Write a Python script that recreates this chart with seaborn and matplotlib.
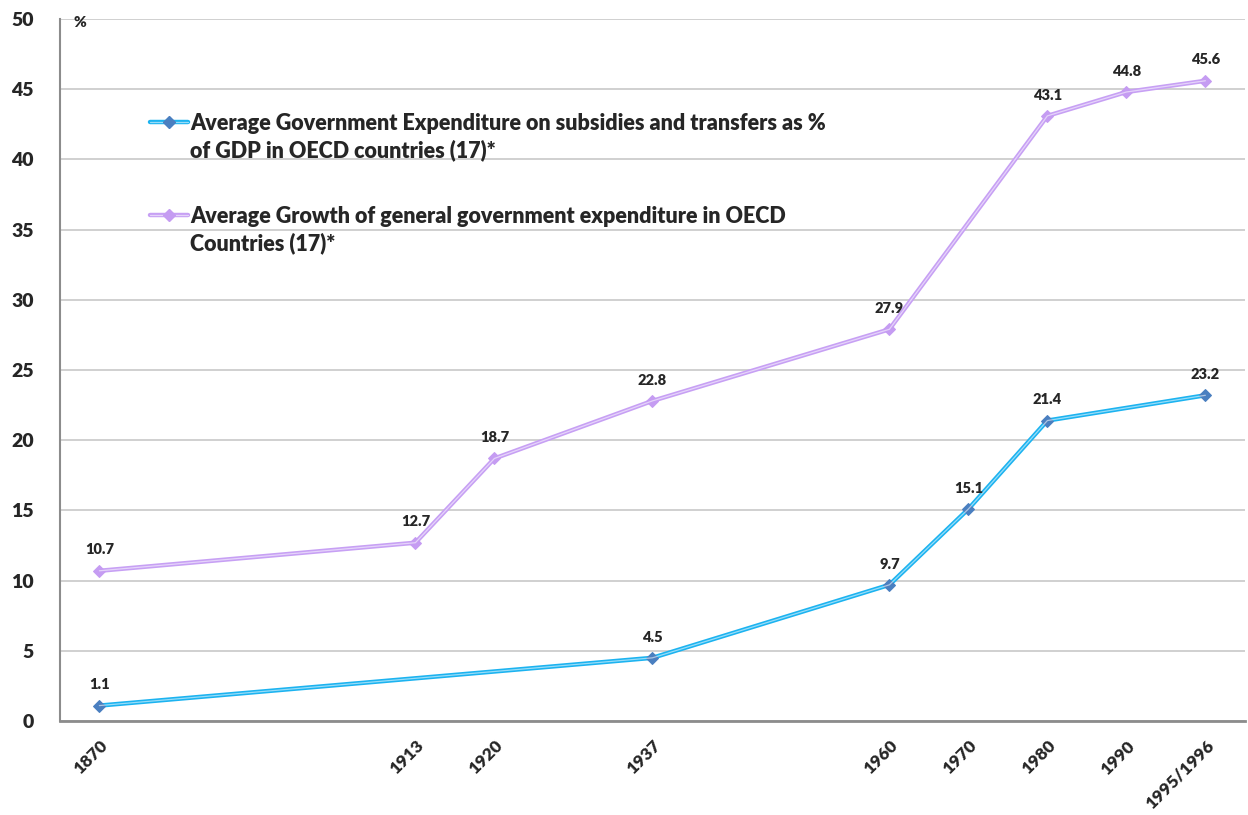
import numpy as np
import pandas as pd
import matplotlib
matplotlib.use('Agg')
import matplotlib.pyplot as plt
from matplotlib.lines import Line2D
import seaborn as sns

# Chart data (Excel-style category axis, blank categories keep the spacing)
categories = ['1870', '', '', '', '1913', '1920', '', '1937', '', '',
              '1960', '1970', '1980', '1990', '1995/1996']
subsidies = [1.1, None, None, None, None, None, None, 4.5, None, None,
             9.7, 15.1, 21.4, None, 23.2]
general_exp = [10.7, None, None, None, 12.7, 18.7, None, 22.8, None, None,
               27.9, None, 43.1, 44.8, 45.6]
label_subsidies = 'Average Government Expenditure on subsidies and transfers as %\nof GDP in OECD countries (17)*'
label_general = 'Average Growth of general government expenditure in OECD\nCountries (17)*'

sns.set_style('white')
plt.rcParams['font.family'] = ['Lato', 'DejaVu Sans']
W = 'heavy'

fig = plt.figure(figsize=(12.48, 8.15), dpi=100)
ax = fig.add_axes([0.048, 0.1153, 0.9495, 0.8614])

pos = np.arange(len(categories))
series = [
    (subsidies, '#1cb3f0', '#4a7fc0'),
    (general_exp, '#c7a0f4', '#c59cf2'),
]

for values, line_col, marker_col in series:
    df = pd.DataFrame({'x': pos, 'y': pd.array(values, dtype='Float64')}).dropna()
    df['y'] = df['y'].astype(float)
    sns.lineplot(data=df, x='x', y='y', ax=ax, color=line_col, lw=3.2,
                 marker='D', markersize=6, markerfacecolor=marker_col,
                 markeredgecolor=marker_col, zorder=3)
    # light centre stripe, like the excel line style
    ax.plot(df['x'], df['y'], color='white', lw=0.9, alpha=0.55, zorder=4)
    for x, y in zip(df['x'], df['y']):
        ax.annotate(f'{y:.1f}', (x, y), xytext=(0, 15), textcoords='offset points',
                    ha='center', va='center', fontsize=10.5, fontweight=W)

ax.set_xlim(-0.5, len(categories) - 0.5)
ax.set_ylim(0, 50)
ax.set_yticks(np.arange(0, 51, 5))
ax.set_xticks(pos)
ax.set_xticklabels(categories, rotation=45, ha='right', rotation_mode='anchor',
                   fontsize=12.5, fontweight=W)
ax.set_xticks(np.arange(-0.5, len(categories), 1), minor=True)
ax.tick_params(axis='x', which='major', length=0, pad=12)
ax.tick_params(axis='x', which='minor', length=6, width=1.2, color='#8c8c8c', direction='out')
ax.tick_params(axis='y', length=6, width=1.2, color='#8c8c8c', direction='out',
               labelsize=14, pad=13)
for lab in ax.get_yticklabels():
    lab.set_fontweight(W)
ax.set_xlabel('')
ax.set_ylabel('')

ax.yaxis.grid(True, color='#c4c4c4', lw=1.1)
ax.xaxis.grid(False)
for side in ['top', 'right']:
    ax.spines[side].set_visible(False)
ax.spines['left'].set_color('#8c8c8c')
ax.spines['left'].set_linewidth(1.5)
ax.spines['bottom'].set_color('#8c8c8c')
ax.spines['bottom'].set_linewidth(2)

ax.text(0.0169, 0.9957, '%', transform=ax.transAxes, ha='center', va='center',
        fontsize=11, fontweight=W)

# legend drawn by hand so that the marker sits on the first text line
legend_rows = [(0.853, 0.866, series[0], label_subsidies),
               (0.721, 0.734, series[1], label_general)]
for y_line, y_text, (values, line_col, marker_col), text in legend_rows:
    ax.add_line(Line2D([0.076, 0.108], [y_line, y_line], transform=ax.transAxes,
                       color=line_col, lw=3.2, zorder=5))
    ax.add_line(Line2D([0.076, 0.108], [y_line, y_line], transform=ax.transAxes,
                       color='white', lw=0.9, alpha=0.55, zorder=6))
    ax.add_line(Line2D([0.092], [y_line], transform=ax.transAxes, marker='D',
                       markersize=6, color=marker_col, zorder=7))
    ax.text(0.1098, y_text, text, transform=ax.transAxes, ha='left', va='top',
            fontsize=15.5, fontweight=W, linespacing=1.3)

fig.savefig('out.png', dpi=100)
